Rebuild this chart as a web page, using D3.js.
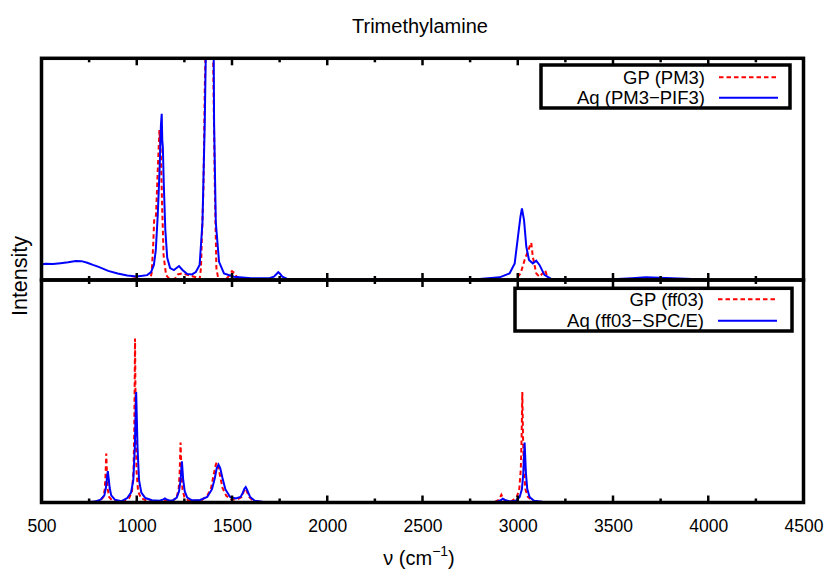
<!DOCTYPE html>
<html><head><meta charset="utf-8">
<script src="https://cdn.jsdelivr.net/npm/d3@7/dist/d3.min.js"></script>
<style>
body{margin:0;background:#fff}
svg text{font-family:"Liberation Sans",Arial,Helvetica,sans-serif;fill:#000}
</style>
</head><body>
<svg id="chart" width="830" height="570"></svg>
<script>
// ---------------- data ----------------
const chartTitle = "Trimethylamine";
const yLabel = "Intensity";
const xMajorTicks = [500,1000,1500,2000,2500,3000,3500,4000,4500];
const xMinorTicks = [750,1250,1750,2250,2750,3250,3750,4250];
const topLegendLabels = ["GP (PM3)", "Aq (PM3\u2212PIF3)"];
const bottomLegendLabels = ["GP (ff03)", "Aq (ff03\u2212SPC/E)"];

// top panel: GP (PM3)  [wavenumber, intensity %]
const gpPM3 = [[500,0],[950,0],[990,0.8],[1000,1.2],[1010,0.3],[1060,0.2],[1072,1],[1078,3],[1086,15],[1092,28],[1101,29],[1110,49],[1119,67.6],[1127,56],[1133,34],[1141,11],[1154,2.2],[1171,0.5],[1200,0.5],[1215,2.5],[1240,3],[1280,2],[1300,1.5],[1320,1],[1330,0.3],[1337,5.4],[1350,41],[1357,86],[1363,110],[1372,250],[1383,350],[1395,250],[1400,110],[1403,86],[1410,41],[1418,5.4],[1428,0.5],[1470,0.5],[1485,2],[1500,4],[1515,3],[1530,0.5],[1600,0],[2980,0],[2992,0.5],[3015,3],[3036,9],[3062,15],[3071,16.8],[3079,10.5],[3097,3],[3114,1.5],[3130,3],[3144,4.5],[3158,0.5],[3175,0],[4500,0]];
// top panel: Aq (PM3-PIF3)
const aqPM3PIF3 = [[500,7],[520,7.3],[560,7.2],[600,7.6],[640,8.0],[680,8.6],[710,8.5],[740,7.8],[770,6.8],[800,5.9],[850,4.1],[900,2.9],[950,2.0],[1000,1.6],[1030,1.9],[1055,2.2],[1075,3.6],[1090,6.8],[1100,13.5],[1110,29],[1120,50],[1127,70],[1131,75],[1134,63],[1137,60],[1142,43],[1150,22.5],[1160,10],[1175,5.4],[1195,4.5],[1212,5.6],[1222,6.3],[1240,4.5],[1265,2.7],[1290,2.5],[1310,3.6],[1330,6.8],[1345,26],[1357,71],[1363,105],[1372,200],[1384,320],[1396,200],[1404,100],[1406,71],[1415,26],[1432,8.2],[1458,3],[1510,1.5],[1600,0.8],[1700,0.9],[1720,1.5],[1735,2.8],[1743,3.5],[1752,2.8],[1764,1.5],[1790,0.5],[1900,0.3],[2200,0.2],[2600,0.3],[2800,0.4],[2905,1.2],[2957,3],[2984,7.5],[3001,19.5],[3014,28.5],[3022,32.3],[3033,27],[3045,15],[3059,9],[3079,7.5],[3097,8.7],[3114,6.8],[3140,2.3],[3175,0.5],[3235,0.2],[3498,0.3],[3600,0.8],[3672,1.2],[3777,0.9],[3915,0.4],[4000,0.1],[4500,0]];

// bottom panel: GP (ff03)
const gpFF03 = [[500,0],[780,0.3],[810,1],[825,2.5],[832,6],[836,12],[840,22],[844,12],[848,6],[855,2.5],[870,1],[900,0.5],[930,0.6],[960,2],[975,5],[983,14],[987,32],[991,73.7],[995,32],[999,14],[1007,5],[1022,2],[1050,0.8],[1100,0.4],[1130,0.4],[1145,0.9],[1150,0.9],[1165,0.4],[1190,0.8],[1210,2.5],[1220,6],[1225,13],[1230,27],[1235,13],[1240,6],[1250,2.5],[1270,1],[1300,0.8],[1340,1],[1370,3],[1390,6.5],[1405,13],[1415,17],[1420,18],[1425,17],[1435,13],[1450,6.5],[1470,3],[1500,1.2],[1530,1.5],[1550,2.5],[1562,5],[1570,6.2],[1578,5],[1590,2.5],[1610,0.8],[1650,0.2],[1800,0],[2850,0],[2880,0.3],[2900,1.2],[2910,2.8],[2914,3.5],[2918,2.8],[2928,1.2],[2945,0.6],[2970,0.8],[2995,2.5],[3008,6],[3016,15],[3020,28],[3024,49.7],[3028,28],[3032,15],[3040,6],[3053,2.5],[3080,0.8],[3120,0.3],[3200,0],[4500,0]];
// bottom panel: Aq (ff03-SPC/E)
const aqFF03SPCE = [[500,0],[750,0.2],[780,0.4],[810,1.3],[830,3.2],[838,6.5],[843,10.5],[848,14.1],[853,10.5],[858,6.5],[866,3.2],[885,1.3],[920,0.6],[950,2],[970,4.5],[982,10],[990,25],[997,49.7],[1004,25],[1012,10],[1024,4.5],[1045,2],[1080,1],[1120,0.8],[1140,1.4],[1148,1.8],[1156,1.4],[1175,0.8],[1190,1],[1210,2.2],[1222,5],[1230,10],[1237,18.5],[1244,10],[1252,5],[1265,2.2],[1290,1],[1330,1],[1370,2.5],[1395,6],[1410,11],[1420,15.5],[1429,17.1],[1438,15.5],[1450,11],[1465,6],[1490,2.5],[1520,1.8],[1545,2.5],[1555,4],[1565,6.2],[1572,6.9],[1580,5.5],[1595,2.5],[1620,0.8],[1660,0.3],[1800,0],[2860,0],[2890,0.3],[2910,1],[2922,1.7],[2935,1],[2960,0.5],[2990,0.8],[3010,2.5],[3022,6],[3029,13],[3036,27],[3043,13],[3050,6],[3062,2.5],[3085,0.8],[3130,0.3],[3200,0],[4500,0]];

// ---------------- drawing ----------------
const svg = d3.select("#chart");
const left = 41.5, right = 803.5;
const topY0 = 58.3, midY = 280, botY1 = 502.5;
const RED = "#ff0000", BLUE = "#0000ff";

const x = d3.scaleLinear().domain([500, 4500]).range([left, right]);
const yTop = d3.scaleLinear().domain([0, 100]).range([midY, topY0]);
const yBot = d3.scaleLinear().domain([0, 100]).range([botY1, midY]);

svg.append("rect").attr("width",830).attr("height",570).attr("fill","#fff");

const defs = svg.append("defs");
defs.append("clipPath").attr("id","clipTop").append("rect")
  .attr("x",left).attr("y",topY0).attr("width",right-left).attr("height",midY-topY0);
defs.append("clipPath").attr("id","clipBot").append("rect")
  .attr("x",left).attr("y",midY).attr("width",right-left).attr("height",botY1-midY);

function drawPanel(yScale, clipId, gp, aq) {
  const line = d3.line().x(d => x(d[0])).y(d => yScale(d[1]));
  const g = svg.append("g").attr("clip-path", `url(#${clipId})`);
  g.append("path").datum(gp).attr("d", line).attr("fill","none")
    .attr("stroke",RED).attr("stroke-width",2).attr("stroke-dasharray","4.5,3");
  g.append("path").datum(aq).attr("d", line).attr("fill","none")
    .attr("stroke",BLUE).attr("stroke-width",2);
}
drawPanel(yTop, "clipTop", gpPM3, aqPM3PIF3);
drawPanel(yBot, "clipBot", gpFF03, aqFF03SPCE);

// ticks
const tickG = svg.append("g").attr("stroke","#000").attr("stroke-width",2.5);
function ticksAt(y0, dir) {
  xMajorTicks.forEach(v => tickG.append("line").attr("x1",x(v)).attr("x2",x(v)).attr("y1",y0).attr("y2",y0+dir*7));
  xMinorTicks.forEach(v => tickG.append("line").attr("x1",x(v)).attr("x2",x(v)).attr("y1",y0).attr("y2",y0+dir*4));
}
ticksAt(topY0, 1);
ticksAt(midY, -1);
ticksAt(midY, 1);
ticksAt(botY1, -1);

// frames
svg.append("rect").attr("x",left).attr("y",topY0).attr("width",right-left).attr("height",midY-topY0)
  .attr("fill","none").attr("stroke","#000").attr("stroke-width",3.5);
svg.append("rect").attr("x",left).attr("y",midY).attr("width",right-left).attr("height",botY1-midY)
  .attr("fill","none").attr("stroke","#000").attr("stroke-width",3.5);

// tick labels via axis
const axis = d3.axisBottom(x).tickValues(xMajorTicks).tickFormat(d3.format("d")).tickSize(0).tickPadding(17);
const ax = svg.append("g").attr("transform",`translate(0,${botY1})`).call(axis);
ax.select(".domain").remove();
ax.selectAll("text").attr("font-size",17.5).attr("font-family",'"Liberation Sans",Arial,sans-serif');

// title
svg.append("text").attr("x",420).attr("y",33.3).attr("text-anchor","middle")
  .attr("font-size",20).text(chartTitle);

// y label
svg.append("text").attr("transform","translate(26.5,276) rotate(-90)").attr("text-anchor","middle")
  .attr("font-size",21.5).text(yLabel);

// x label
const xl = svg.append("text").attr("x",419).attr("y",565).attr("text-anchor","middle").attr("font-size",20);
xl.append("tspan").text("\u03bd (cm");
xl.append("tspan").attr("font-size",14).attr("dy",-9).text("\u22121");
xl.append("tspan").attr("dy",9).text(")");

// legends
function legend(box, labels, rowYs, textRight, lineX1, lineX2) {
  svg.append("rect").attr("x",box[0]).attr("y",box[1]).attr("width",box[2]-box[0]).attr("height",box[3]-box[1])
    .attr("fill","#fff").attr("stroke","#000").attr("stroke-width",3.5);
  const colors = [RED, BLUE];
  labels.forEach((lab,i) => {
    svg.append("text").attr("x",textRight).attr("y",rowYs[i]+6.5).attr("text-anchor","end")
      .attr("font-size",18.5).text(lab);
    svg.append("line").attr("x1",lineX1).attr("x2",lineX2).attr("y1",rowYs[i]).attr("y2",rowYs[i])
      .attr("stroke",colors[i]).attr("stroke-width",2)
      .attr("stroke-dasharray", i===0 ? "4.5,3" : null);
  });
}
legend([541,65,790,108], topLegendLabels, [77.3,97.7], 705, 719, 778);
legend([515,288.3,792,331], bottomLegendLabels, [299.3,320.7], 704, 718, 777);
</script>
</body></html>
